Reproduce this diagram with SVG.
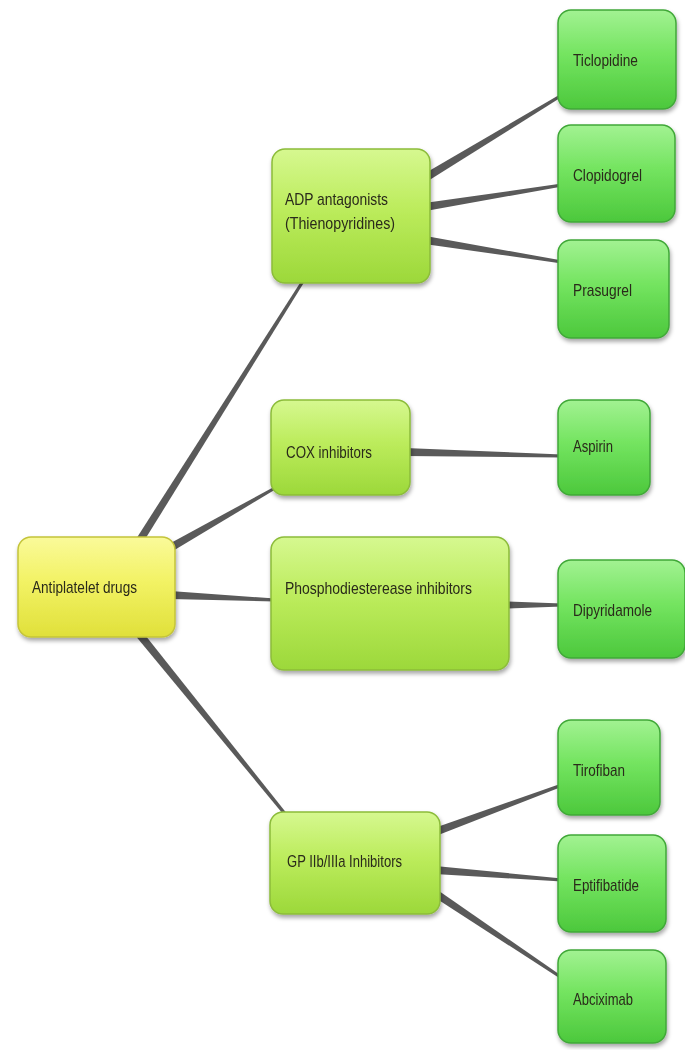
<svg xmlns="http://www.w3.org/2000/svg" width="685" height="1050" viewBox="0 0 685 1050">
<defs>
<linearGradient id="gy" x1="0" y1="0" x2="0" y2="1"><stop offset="0" stop-color="#fafa9a"/><stop offset="0.45" stop-color="#f2f264"/><stop offset="1" stop-color="#e0e03a"/></linearGradient>
<linearGradient id="gm" x1="0" y1="0" x2="0" y2="1"><stop offset="0" stop-color="#d6f890"/><stop offset="0.45" stop-color="#bcec5c"/><stop offset="1" stop-color="#9cd83a"/></linearGradient>
<linearGradient id="gr" x1="0" y1="0" x2="0" y2="1"><stop offset="0" stop-color="#a2f292"/><stop offset="0.45" stop-color="#74e460"/><stop offset="1" stop-color="#4cc83c"/></linearGradient>
<filter id="sh" x="-10%" y="-10%" width="125%" height="130%"><feDropShadow dx="1" dy="3" stdDeviation="2" flood-color="#000" flood-opacity="0.35"/></filter>
</defs>
<style>
.n{filter:url(#sh)}
.y{fill:url(#gy);stroke:#c4c43a;stroke-width:1.5}
.m{fill:url(#gm);stroke:#8cbc3a;stroke-width:1.5}
.r{fill:url(#gr);stroke:#40a838;stroke-width:1.5}
text{font-family:"Liberation Sans",Arial,sans-serif;font-size:17px;fill:#2a2a1a}
.c{fill:#5a5a5a}
</style>
<rect width="685" height="1050" fill="#fff"/>
<g id="connectors" class="c">
<polygon points="138.4,550.1 306.3,278.8 303.7,277.2 131.6,545.9"/>
<polygon points="172,551.5 275.7,489.3 274.3,486.7 168,544.5"/>
<polygon points="169.8,599 274.9,601.5 275.1,598.5 170.2,591"/>
<polygon points="136.9,637.5 288.8,820.9 291.2,819.1 143.1,632.5"/>
<polygon points="427.1,181.4 562.8,96.3 561.2,93.7 422.9,174.6"/>
<polygon points="425.6,210.9 562.2,186.5 561.8,183.5 424.4,203.1"/>
<polygon points="424.4,243.9 561.8,263.5 562.2,260.5 425.6,236.1"/>
<polygon points="404.9,456 562,457.5 562,454.5 405.1,448"/>
<polygon points="505,608.5 562,606.5 562,603.5 505,601.5"/>
<polygon points="436.4,835.8 562.5,786.4 561.5,783.6 433.6,828.2"/>
<polygon points="434.7,874 561.9,881.5 562.1,878.5 435.3,866"/>
<polygon points="432.8,896.3 561.2,979.2 562.8,976.8 437.2,889.7"/>
</g>
<g id="antiplatelet" class="n"><rect class="y" x="18" y="537" width="157" height="100" rx="13"/><text x="32" y="593" textLength="105" lengthAdjust="spacingAndGlyphs">Antiplatelet drugs</text></g>
<g id="adp" class="n"><rect class="m" x="272" y="149" width="158" height="134" rx="13"/><text x="285" y="205" textLength="103" lengthAdjust="spacingAndGlyphs">ADP antagonists</text><text x="285" y="229" textLength="110" lengthAdjust="spacingAndGlyphs">(Thienopyridines)</text></g>
<g id="cox" class="n"><rect class="m" x="271" y="400" width="139" height="95" rx="13"/><text x="286" y="458" textLength="86" lengthAdjust="spacingAndGlyphs">COX inhibitors</text></g>
<g id="pde" class="n"><rect class="m" x="271" y="537" width="238" height="133" rx="13"/><text x="285" y="594" textLength="187" lengthAdjust="spacingAndGlyphs">Phosphodiesterease inhibitors</text></g>
<g id="gp" class="n"><rect class="m" x="270" y="812" width="170" height="102" rx="13"/><text x="287" y="867" textLength="115" lengthAdjust="spacingAndGlyphs">GP IIb/IIIa Inhibitors</text></g>
<g id="ticlopidine" class="n"><rect class="r" x="558" y="10" width="118" height="99" rx="13"/><text x="573" y="66" textLength="65" lengthAdjust="spacingAndGlyphs">Ticlopidine</text></g>
<g id="clopidogrel" class="n"><rect class="r" x="558" y="125" width="117" height="97" rx="13"/><text x="573" y="181" textLength="69" lengthAdjust="spacingAndGlyphs">Clopidogrel</text></g>
<g id="prasugrel" class="n"><rect class="r" x="558" y="240" width="111" height="98" rx="13"/><text x="573" y="296" textLength="59" lengthAdjust="spacingAndGlyphs">Prasugrel</text></g>
<g id="aspirin" class="n"><rect class="r" x="558" y="400" width="92" height="95" rx="13"/><text x="573" y="452" textLength="40" lengthAdjust="spacingAndGlyphs">Aspirin</text></g>
<g id="dipyridamole" class="n"><rect class="r" x="558" y="560" width="127" height="98" rx="13"/><text x="573" y="616" textLength="79" lengthAdjust="spacingAndGlyphs">Dipyridamole</text></g>
<g id="tirofiban" class="n"><rect class="r" x="558" y="720" width="102" height="95" rx="13"/><text x="573" y="776" textLength="52" lengthAdjust="spacingAndGlyphs">Tirofiban</text></g>
<g id="eptifibatide" class="n"><rect class="r" x="558" y="835" width="108" height="97" rx="13"/><text x="573" y="891" textLength="66" lengthAdjust="spacingAndGlyphs">Eptifibatide</text></g>
<g id="abciximab" class="n"><rect class="r" x="558" y="950" width="108" height="93" rx="13"/><text x="573" y="1005" textLength="60" lengthAdjust="spacingAndGlyphs">Abciximab</text></g>
</svg>
